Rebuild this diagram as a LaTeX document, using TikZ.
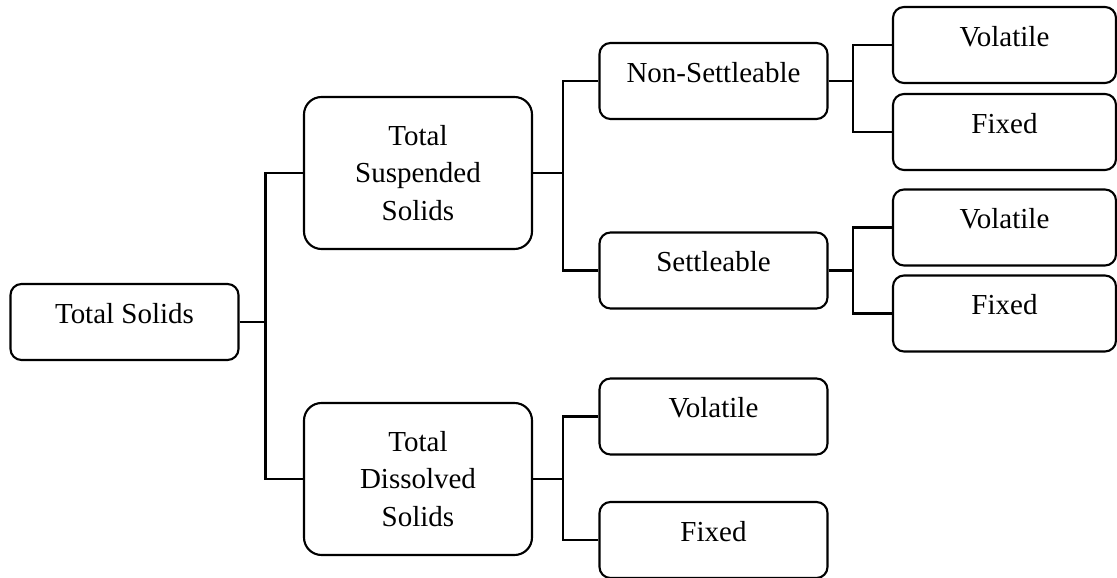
\documentclass[tikz,border=0pt]{standalone}
\usepackage{fontspec}
\setmainfont{Liberation Serif}

\begin{document}
\begin{tikzpicture}[
    box/.style={draw, line width=1.2pt, rounded corners=0.22cm,
        minimum width=4.56cm, minimum height=1.52cm, inner sep=0pt,
        text height=11pt, text depth=9.5pt,
        font=\fontsize{16.5}{21.5}\selectfont},
    bigbox/.style={draw, line width=1.2pt, rounded corners=0.35cm,
        minimum width=4.56cm, minimum height=3.04cm, inner sep=0pt,
        align=center, font=\fontsize{16.5}{21.5}\selectfont},
    link/.style={line width=1.2pt}]
    \useasboundingbox (0,0) rectangle (22.34,-11.56);

    % bus lines
    \coordinate (b0) at (5.31,0);
    \coordinate (b1) at (11.26,0);
    \coordinate (b2) at (17.06,0);

    \node[box] (ts) at (2.49,-6.44) {Total Solids};

    \node[bigbox] (tss) at (8.36,-3.46) {Total\\Suspended\\Solids};
    \node[bigbox] (tds) at (8.36,-9.58) {Total\\Dissolved\\Solids};

    \node[box] (ns) at (14.27,-1.62) {Non-Settleable};
    \node[box] (st) at (14.27,-5.41) {Settleable};
    \node[box] (v3) at (14.27,-8.33) {Volatile};
    \node[box] (f3) at (14.27,-10.8) {Fixed};

    \node[box,minimum width=4.46cm] (v1) at (20.09,-0.9) {Volatile};
    \node[box,minimum width=4.46cm] (f1) at (20.09,-2.64) {Fixed};
    \node[box,minimum width=4.46cm] (v2) at (20.09,-4.55) {Volatile};
    \node[box,minimum width=4.46cm] (f2) at (20.09,-6.27) {Fixed};

    \draw[link] (ts.east) -- (ts.east -| b0) |- (tss.west);
    \draw[link] (ts.east -| b0) |- (tds.west);

    \foreach \p/\c in {tss/ns, tss/st, tds/v3, tds/f3} {
        \draw[link] (\p.east) -- (\p.east -| b1) |- (\c.west);
    }
    \foreach \p/\c in {ns/v1, ns/f1, st/v2, st/f2} {
        \draw[link] (\p.east) -- (\p.east -| b2) |- (\c.west);
    }
\end{tikzpicture}
\end{document}
